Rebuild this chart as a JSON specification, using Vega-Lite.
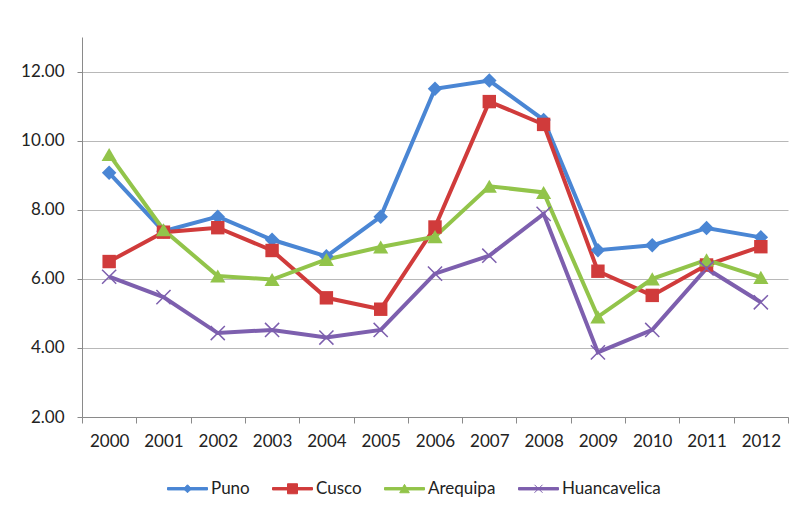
{
  "$schema": "https://vega.github.io/schema/vega-lite/v6.json",
  "autosize": "none",
  "width": 706,
  "height": 380,
  "padding": {"left": 82, "top": 37, "right": 7, "bottom": 89},
  "background": "white",
  "config": {
    "view": {"stroke": null},
    "font": "Lato",
    "axis": {"labelFont": "Lato", "labelColor": "#222222", "labelFontSize": 17, "domainColor": "#8a8a8a", "tickColor": "#8a8a8a", "gridColor": "#b8b8b8"},
    "legend": {"labelFont": "Lato", "labelFontSize": 17, "labelColor": "#222222"}
  },
  "data": {
    "values": [
      {"year": "2000", "region": "Puno", "value": 9.07},
      {"year": "2001", "region": "Puno", "value": 7.38},
      {"year": "2002", "region": "Puno", "value": 7.8},
      {"year": "2003", "region": "Puno", "value": 7.13},
      {"year": "2004", "region": "Puno", "value": 6.65},
      {"year": "2005", "region": "Puno", "value": 7.8},
      {"year": "2006", "region": "Puno", "value": 11.5},
      {"year": "2007", "region": "Puno", "value": 11.74},
      {"year": "2008", "region": "Puno", "value": 10.6},
      {"year": "2009", "region": "Puno", "value": 6.83},
      {"year": "2010", "region": "Puno", "value": 6.97},
      {"year": "2011", "region": "Puno", "value": 7.47},
      {"year": "2012", "region": "Puno", "value": 7.2},
      {"year": "2000", "region": "Cusco", "value": 6.5},
      {"year": "2001", "region": "Cusco", "value": 7.35},
      {"year": "2002", "region": "Cusco", "value": 7.48},
      {"year": "2003", "region": "Cusco", "value": 6.82},
      {"year": "2004", "region": "Cusco", "value": 5.45},
      {"year": "2005", "region": "Cusco", "value": 5.12},
      {"year": "2006", "region": "Cusco", "value": 7.5},
      {"year": "2007", "region": "Cusco", "value": 11.13},
      {"year": "2008", "region": "Cusco", "value": 10.47},
      {"year": "2009", "region": "Cusco", "value": 6.22},
      {"year": "2010", "region": "Cusco", "value": 5.52},
      {"year": "2011", "region": "Cusco", "value": 6.4},
      {"year": "2012", "region": "Cusco", "value": 6.93},
      {"year": "2000", "region": "Arequipa", "value": 9.6},
      {"year": "2001", "region": "Arequipa", "value": 7.42},
      {"year": "2002", "region": "Arequipa", "value": 6.08},
      {"year": "2003", "region": "Arequipa", "value": 5.98},
      {"year": "2004", "region": "Arequipa", "value": 6.56},
      {"year": "2005", "region": "Arequipa", "value": 6.92},
      {"year": "2006", "region": "Arequipa", "value": 7.22},
      {"year": "2007", "region": "Arequipa", "value": 8.68},
      {"year": "2008", "region": "Arequipa", "value": 8.5},
      {"year": "2009", "region": "Arequipa", "value": 4.9},
      {"year": "2010", "region": "Arequipa", "value": 6.0},
      {"year": "2011", "region": "Arequipa", "value": 6.55},
      {"year": "2012", "region": "Arequipa", "value": 6.04},
      {"year": "2000", "region": "Huancavelica", "value": 6.06},
      {"year": "2001", "region": "Huancavelica", "value": 5.47},
      {"year": "2002", "region": "Huancavelica", "value": 4.43},
      {"year": "2003", "region": "Huancavelica", "value": 4.52},
      {"year": "2004", "region": "Huancavelica", "value": 4.3},
      {"year": "2005", "region": "Huancavelica", "value": 4.52},
      {"year": "2006", "region": "Huancavelica", "value": 6.15},
      {"year": "2007", "region": "Huancavelica", "value": 6.67},
      {"year": "2008", "region": "Huancavelica", "value": 7.88},
      {"year": "2009", "region": "Huancavelica", "value": 3.87},
      {"year": "2010", "region": "Huancavelica", "value": 4.52},
      {"year": "2011", "region": "Huancavelica", "value": 6.3},
      {"year": "2012", "region": "Huancavelica", "value": 5.32}
    ]
  },
  "encoding": {
    "x": {
      "field": "year", "type": "ordinal",
      "scale": {"type": "band", "paddingInner": 0, "paddingOuter": 0},
      "axis": {"title": null, "labelAngle": 0, "grid": false, "tickBand": "extent", "tickSize": 6, "labelPadding": 10, "domainColor": "#8a8a8a"}
    },
    "y": {
      "field": "value", "type": "quantitative",
      "scale": {"domain": [2, 13], "nice": false, "zero": false},
      "axis": {"title": null, "values": [2, 4, 6, 8, 10, 12], "format": ".2f", "tickSize": 5, "labelPadding": 13, "grid": true}
    }
  },
  "layer": [
    {
      "mark": {"type": "line", "strokeWidth": 4},
      "encoding": {
        "color": {
          "field": "region", "type": "nominal",
          "scale": {"domain": ["Puno", "Cusco", "Arequipa", "Huancavelica"], "range": ["#4a86d4", "#d03b3b", "#92c44a", "#7d5fae"]},
          "legend": {
            "title": null, "orient": "none", "legendX": 85, "legendY": 431, "direction": "horizontal",
            "symbolSize": 1600, "symbolStrokeWidth": 1, "labelOffset": 3, "columnPadding": 20,
            "encode": {
              "symbols": {
                "update": {
                  "shape": {"signal": "datum.value === 'Puno' ? 'M-1,-0.06H1V0.06H-1Z M0,-0.2L0.2,0L0,0.2L-0.2,0Z' : datum.value === 'Cusco' ? 'M-1,-0.06H1V0.06H-1Z M-0.25,-0.25H0.25V0.25H-0.25Z' : datum.value === 'Arequipa' ? 'M-1,-0.06H1V0.06H-1Z M0,-0.22L0.24,0.2H-0.24Z' : 'M-1,-0.06H1V0.06H-1Z M-0.2,-0.2L0.2,0.2M-0.2,0.2L0.2,-0.2'"},
                  "fill": {"scale": "color", "field": "value"},
                  "stroke": {"scale": "color", "field": "value"},
                  "strokeWidth": {"value": 1},
                  "opacity": {"value": 1}
                }
              }
            }
          }
        }
      }
    },
    {
      "transform": [{"filter": "datum.region === 'Puno'"}],
      "mark": {"type": "point", "shape": "diamond", "filled": true, "opacity": 1, "size": 210, "color": "#4a86d4"}
    },
    {
      "transform": [{"filter": "datum.region === 'Cusco'"}],
      "mark": {"type": "point", "shape": "square", "filled": true, "opacity": 1, "size": 180, "color": "#d03b3b"}
    },
    {
      "transform": [{"filter": "datum.region === 'Arequipa'"}],
      "mark": {"type": "point", "shape": "triangle-up", "filled": true, "opacity": 1, "size": 230, "color": "#92c44a"}
    },
    {
      "transform": [{"filter": "datum.region === 'Huancavelica'"}],
      "mark": {"type": "point", "shape": "M-1,-1L1,1M-1,1L1,-1", "filled": false, "opacity": 1, "size": 200, "color": "#7d5fae", "strokeWidth": 1.5}
    }
  ]
}
